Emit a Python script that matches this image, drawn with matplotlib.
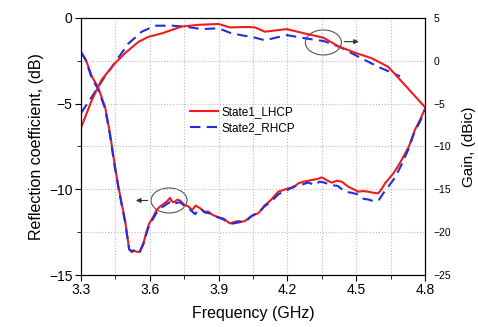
import matplotlib
matplotlib.use('Agg')
import matplotlib.pyplot as plt
from matplotlib.patches import Ellipse

plt.rcParams['font.family'] = ['Liberation Sans', 'DejaVu Sans']

# reflection coefficient (dB), left axis
f_s11_lhcp = [3.30, 3.32, 3.347, 3.376, 3.405, 3.426, 3.445, 3.463, 3.48, 3.492, 3.51, 3.52, 3.535,
              3.545, 3.557, 3.572, 3.585, 3.597, 3.615, 3.63, 3.645, 3.659, 3.675, 3.688, 3.70, 3.71,
              3.72, 3.732, 3.75, 3.768, 3.785, 3.80, 3.819, 3.835, 3.855, 3.875, 3.899, 3.92, 3.935,
              3.95, 3.97, 3.985, 4.00, 4.015, 4.03, 4.05, 4.073, 4.10, 4.13, 4.16, 4.18, 4.204, 4.225,
              4.248, 4.27, 4.29, 4.306, 4.33, 4.35, 4.37, 4.393, 4.415, 4.437, 4.466, 4.49, 4.509,
              4.53, 4.553, 4.575, 4.597, 4.61, 4.626, 4.645, 4.662, 4.68, 4.698, 4.73, 4.756, 4.78, 4.80]
s11_lhcp = [-2.0, -2.4, -3.4, -4.1, -5.2, -6.7, -8.4, -9.85, -11.0, -11.8, -13.5, -13.65, -13.6,
            -13.65, -13.65, -13.15, -12.5, -12.0, -11.6, -11.2, -11.0, -10.86, -10.7, -10.5, -10.75, -10.72,
            -10.6, -10.66, -10.9, -11.0, -11.2, -10.95, -11.1, -11.3, -11.3, -11.5, -11.63, -11.7, -11.85,
            -11.99, -11.9, -11.85, -11.89, -11.85, -11.7, -11.5, -11.4, -10.95, -10.6, -10.14, -10.05, -9.94, -9.9,
            -9.65, -9.55, -9.5, -9.46, -9.4, -9.3, -9.45, -9.61, -9.5, -9.55, -9.85, -10.0, -10.14,
            -10.1, -10.14, -10.2, -10.23, -10.0, -9.65, -9.35, -9.07, -8.7, -8.29, -7.5, -6.54, -5.9, -5.3]

f_s11_rhcp = [3.30, 3.32, 3.347, 3.376, 3.405, 3.426, 3.445, 3.463, 3.48, 3.492, 3.51, 3.52, 3.535,
              3.545, 3.557, 3.572, 3.585, 3.597, 3.615, 3.63, 3.645, 3.659, 3.675, 3.688, 3.70, 3.715,
              3.732, 3.75, 3.768, 3.785, 3.798, 3.81, 3.825, 3.84, 3.86, 3.88, 3.90, 3.92, 3.94,
              3.96, 3.98, 4.00, 4.02, 4.04, 4.06, 4.08, 4.10, 4.13, 4.16, 4.18, 4.20, 4.225, 4.25,
              4.27, 4.29, 4.32, 4.34, 4.36, 4.39, 4.42, 4.451, 4.48, 4.51, 4.532, 4.555, 4.582,
              4.60, 4.62, 4.64, 4.67, 4.70, 4.73, 4.75, 4.78, 4.80]
s11_rhcp = [-2.0, -2.45, -3.5, -4.2, -5.3, -6.8, -8.5, -9.9, -11.1, -11.9, -13.5, -13.6, -13.55,
            -13.7, -13.6, -13.2, -12.6, -12.1, -11.7, -11.35, -11.1, -11.0, -10.85, -10.75, -10.9, -10.8,
            -10.75, -10.95, -11.1, -11.3, -11.45, -11.2, -11.15, -11.35, -11.4, -11.55, -11.65, -11.75, -11.9,
            -12.0, -11.95, -11.9, -11.85, -11.6, -11.45, -11.3, -11.0, -10.7, -10.3, -10.15, -10.05, -9.85, -9.75,
            -9.7, -9.6, -9.75, -9.55, -9.6, -9.75, -9.8, -10.14, -10.2, -10.3, -10.55, -10.6, -10.72,
            -10.6, -10.2, -9.85, -9.3, -8.5, -7.6, -6.8, -6.0, -5.4]

# gain (dBic), right axis
f_gain_lhcp = [3.30, 3.347, 3.39, 3.448, 3.492, 3.55, 3.594, 3.652, 3.739, 3.812, 3.899, 3.95,
               4.02, 4.059, 4.102, 4.197, 4.291, 4.357, 4.422, 4.495, 4.568, 4.64, 4.698, 4.80]
gain_lhcp = [-7.8, -4.6, -2.2, -0.3, 0.9, 2.2, 2.8, 3.2, 4.0, 4.2, 4.3, 3.9,
             3.95, 3.9, 3.4, 3.7, 3.1, 2.7, 1.7, 0.95, 0.3, -0.7, -2.4, -5.4]
f_gain_rhcp = [3.30, 3.347, 3.405, 3.456, 3.506, 3.565, 3.623, 3.696, 3.754, 3.826, 3.899, 3.957,
               4.059, 4.102, 4.197, 4.284, 4.36, 4.43, 4.508, 4.596, 4.691]
gain_rhcp = [-6.1, -4.2, -1.8, 0.1, 2.0, 3.4, 4.1, 4.1, 4.0, 3.7, 3.8, 3.2,
             2.7, 2.4, 3.0, 2.6, 2.3, 1.6, 0.5, -0.7, -1.8]

fig = plt.figure(figsize=(4.78, 3.27), dpi=100)
ax = fig.add_axes([0.1695, 0.159, 0.7195, 0.786])
ax2 = ax.twinx()

red = '#ee1c1c'
blue = '#1f2fe0'

ax.plot(f_s11_lhcp, s11_lhcp, color=red, lw=1.5, label='State1_LHCP')
ax.plot(f_s11_rhcp, s11_rhcp, color=blue, lw=1.5, ls=(0, (5, 3)), label='State2_RHCP')
ax2.plot(f_gain_rhcp, gain_rhcp, color=blue, lw=1.5, ls=(0, (5, 3)))
ax2.plot(f_gain_lhcp, gain_lhcp, color=red, lw=1.5)

ax.set_xlim(3.3, 4.8)
ax.set_ylim(-15, 0)
ax2.set_ylim(-25, 5)
ax.set_xticks([3.3, 3.6, 3.9, 4.2, 4.5, 4.8])
ax.set_xticks([3.45, 3.75, 4.05, 4.35, 4.65], minor=True)
ax.set_yticks([0, -5, -10, -15])
ax.set_yticks([-2.5, -7.5, -12.5], minor=True)
ax2.set_yticks([5, 0, -5, -10, -15, -20, -25])
ax.grid(which='both', color='#bbbbbb', ls=':', lw=0.8)

ax.tick_params(which='major', direction='out', length=4, labelsize=10, pad=2)
ax.tick_params(which='minor', direction='out', length=3)
ax2.tick_params(direction='in', length=0, labelsize=7.5, pad=6)

ax.set_xlabel('Frequency (GHz)', fontsize=11.5, labelpad=6)
ax.set_ylabel('Reflection coefficient, (dB)', fontsize=11.5, labelpad=4)
ax2.set_ylabel('Gain, (dBic)', fontsize=11, labelpad=8)

# annotation ellipses with arrows
ax.add_patch(Ellipse((3.684, -10.65), 0.157, 1.46, fill=False, ec='#555555', lw=0.8))
ax.annotate('', xy=(3.527, -10.65), xytext=(3.603, -10.65),
            arrowprops=dict(arrowstyle='-|>', color='#333333', lw=0.8, mutation_scale=7))
ax.add_patch(Ellipse((4.357, -1.43), 0.157, 1.46, fill=False, ec='#555555', lw=0.8))
ax.annotate('', xy=(4.524, -1.38), xytext=(4.437, -1.38),
            arrowprops=dict(arrowstyle='-|>', color='#333333', lw=0.8, mutation_scale=7))

ax.legend(loc='upper left', bbox_to_anchor=(0.3, 0.68), frameon=False, fontsize=8.5,
          handlelength=2.4, handletextpad=0.3, borderpad=0, labelspacing=0.3)

fig.savefig('out.png', dpi=100)
